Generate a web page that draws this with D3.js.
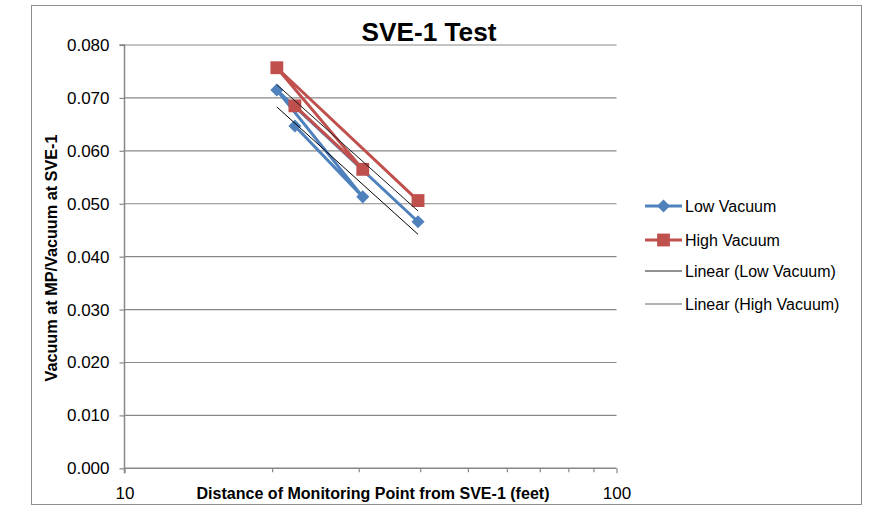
<!DOCTYPE html>
<html>
<head>
<meta charset="utf-8">
<script src="https://cdn.jsdelivr.net/npm/d3@7"></script>
<style>
  body { margin: 0; background: #fff; }
  svg { display: block; font-family: "Liberation Sans", Arial, sans-serif; }
</style>
</head>
<body>
<div id="chart"></div>
<script>
// values, kept in the order the points are joined
const distances = [22.2, 30.5, 20.4, 39.5];
const low_vacuum = [0.0647, 0.0513, 0.0715, 0.0466];
const high_vacuum = [0.0685, 0.0565, 0.0757, 0.0506];

const series_names = ["Low Vacuum", "High Vacuum"];
const series_colors = ["#4f81bd", "#c0504d"];
const trend_names = ["Linear (Low Vacuum)", "Linear (High Vacuum)"];
const trend_colors = ["#000000", "#1a1a1a"];

const y_ticks = [0, 0.01, 0.02, 0.03, 0.04, 0.05, 0.06, 0.07, 0.08];
const x_major_ticks = [10, 100];
const x_minor_ticks = [20, 30, 40, 50, 60, 70, 80, 90];

const chart_title = "SVE-1 Test";
const x_title = "Distance of Monitoring Point from SVE-1 (feet)";
const y_title = "Vacuum at MP/Vacuum at SVE-1";

const width = 873;
const height = 506;
const plot = { left: 124.5, right: 616.5, top: 45, bottom: 468.3 };
const axis_color = "#878787";

const svg = d3
  .select("#chart")
  .append("svg")
  .attr("width", width)
  .attr("height", height);

// outer chart border
svg
  .append("rect")
  .attr("x", 31.5)
  .attr("y", 5.5)
  .attr("width", 830)
  .attr("height", 499)
  .attr("fill", "#fff")
  .attr("stroke", "#8e8e8e")
  .attr("stroke-width", 1);

const x_axis = d3.scaleLog().domain([10, 100]).range([plot.left, plot.right]);
const y_axis = d3.scaleLinear().domain([0, 0.08]).range([plot.bottom, plot.top]);

// gridlines
svg
  .append("g")
  .selectAll("line")
  .data(y_ticks.slice(1))
  .join("line")
  .attr("x1", plot.left)
  .attr("x2", plot.right)
  .attr("y1", (d) => y_axis(d))
  .attr("y2", (d) => y_axis(d))
  .attr("stroke", axis_color)
  .attr("stroke-width", 1.2);

// y axis
const y_g = svg
  .append("g")
  .attr("transform", `translate(${plot.left},0)`)
  .call(
    d3
      .axisLeft(y_axis)
      .tickValues(y_ticks)
      .tickSize(5)
      .tickPadding(10)
      .tickFormat(d3.format(".3f"))
  );
y_g.select(".domain").attr("stroke", axis_color).attr("stroke-width", 1.5)
  .attr("d", `M-5,${plot.top}H0V${plot.bottom + 5}`);
y_g.selectAll(".tick line").attr("stroke", axis_color).attr("stroke-width", 1.2);
y_g.selectAll(".tick text")
  .attr("font-size", 17)
  .attr("fill", "#000")
  .attr("font-family", "Liberation Sans, Arial, sans-serif");

// x axis, major and minor ticks
const x_g = svg
  .append("g")
  .attr("transform", `translate(0,${plot.bottom})`)
  .call(
    d3
      .axisBottom(x_axis)
      .tickValues(x_major_ticks)
      .tickSize(5)
      .tickPadding(14)
      .tickFormat(d3.format("d"))
  );
x_g.select(".domain").attr("stroke", axis_color).attr("stroke-width", 1.5)
  .attr("d", `M${plot.left},0H${plot.right}`);
x_g.selectAll(".tick line").attr("stroke", axis_color).attr("stroke-width", 1.2);
x_g.selectAll(".tick text")
  .attr("font-size", 17)
  .attr("fill", "#000")
  .attr("font-family", "Liberation Sans, Arial, sans-serif");
x_g
  .append("g")
  .selectAll("line")
  .data(x_minor_ticks)
  .join("line")
  .attr("x1", (d) => x_axis(d))
  .attr("x2", (d) => x_axis(d))
  .attr("y1", 0)
  .attr("y2", 4)
  .attr("stroke", axis_color)
  .attr("stroke-width", 1.2);

// titles
svg
  .append("text")
  .attr("x", 429)
  .attr("y", 41)
  .attr("text-anchor", "middle")
  .attr("font-size", 25)
  .attr("font-weight", "bold")
  .attr("textLength", 135)
  .attr("lengthAdjust", "spacingAndGlyphs")
  .text(chart_title);

svg
  .append("text")
  .attr("x", 373)
  .attr("y", 499)
  .attr("text-anchor", "middle")
  .attr("font-size", 16)
  .attr("font-weight", "bold")
  .attr("textLength", 353)
  .attr("lengthAdjust", "spacingAndGlyphs")
  .text(x_title);

svg
  .append("text")
  .attr("transform", "translate(57,258) rotate(-90)")
  .attr("text-anchor", "middle")
  .attr("font-size", 16)
  .attr("font-weight", "bold")
  .attr("textLength", 247)
  .attr("lengthAdjust", "spacingAndGlyphs")
  .text(y_title);

// least squares fit of y on x, drawn between the first and last distance
function linearFit(xs, ys) {
  const mx = d3.mean(xs);
  const my = d3.mean(ys);
  const sxy = d3.sum(xs, (x, i) => (x - mx) * (ys[i] - my));
  const sxx = d3.sum(xs, (x) => (x - mx) * (x - mx));
  const slope = sxy / sxx;
  const lo = d3.min(xs);
  const hi = d3.max(xs);
  return [
    [lo, my + slope * (lo - mx)],
    [hi, my + slope * (hi - mx)],
  ];
}

const all_series = [low_vacuum, high_vacuum];
const line = d3
  .line()
  .x((d) => x_axis(d[0]))
  .y((d) => y_axis(d[1]));

all_series.forEach((values, i) => {
  const pts = distances.map((d, j) => [d, values[j]]);
  svg
    .append("path")
    .datum(pts)
    .attr("fill", "none")
    .attr("stroke", series_colors[i])
    .attr("stroke-width", 3)
    .attr("d", line);
});

const diamond = d3.symbol().type(d3.symbolSquare).size(85);
const square = d3.symbol().type(d3.symbolSquare).size(165);

function drawMarker(g, i, x, y) {
  if (i === 0)
    g.append("path")
      .attr("d", diamond())
      .attr("transform", `translate(${x},${y}) rotate(45)`)
      .attr("fill", series_colors[i]);
  else
    g.append("path")
      .attr("d", square())
      .attr("transform", `translate(${x},${y})`)
      .attr("fill", series_colors[i]);
}

all_series.forEach((values, i) => {
  const g = svg.append("g");
  distances.forEach((d, j) => drawMarker(g, i, x_axis(d), y_axis(values[j])));
});

// trendlines on top
all_series.forEach((values, i) => {
  svg
    .append("path")
    .datum(linearFit(distances, values))
    .attr("fill", "none")
    .attr("stroke", trend_colors[i])
    .attr("stroke-width", 1)
    .attr("d", line);
});

// legend
const legend_rows = [206, 240, 271, 304];
const legend = svg.append("g");
const legend_items = [
  { name: series_names[0], color: series_colors[0], width: 3, marker: 0 },
  { name: series_names[1], color: series_colors[1], width: 3, marker: 1 },
  { name: trend_names[0], color: "#222", width: 1, marker: -1 },
  { name: trend_names[1], color: "#666", width: 1, marker: -1 },
];
legend_items.forEach((item, i) => {
  const y = legend_rows[i];
  legend
    .append("line")
    .attr("x1", 645)
    .attr("x2", 682)
    .attr("y1", y)
    .attr("y2", y)
    .attr("stroke", item.color)
    .attr("stroke-width", item.width);
  if (item.marker >= 0) drawMarker(legend, item.marker, 663.5, y);
  legend
    .append("text")
    .attr("x", 685)
    .attr("y", y)
    .attr("dy", "0.35em")
    .attr("font-size", 16)
    .text(item.name);
});
</script>
</body>
</html>
